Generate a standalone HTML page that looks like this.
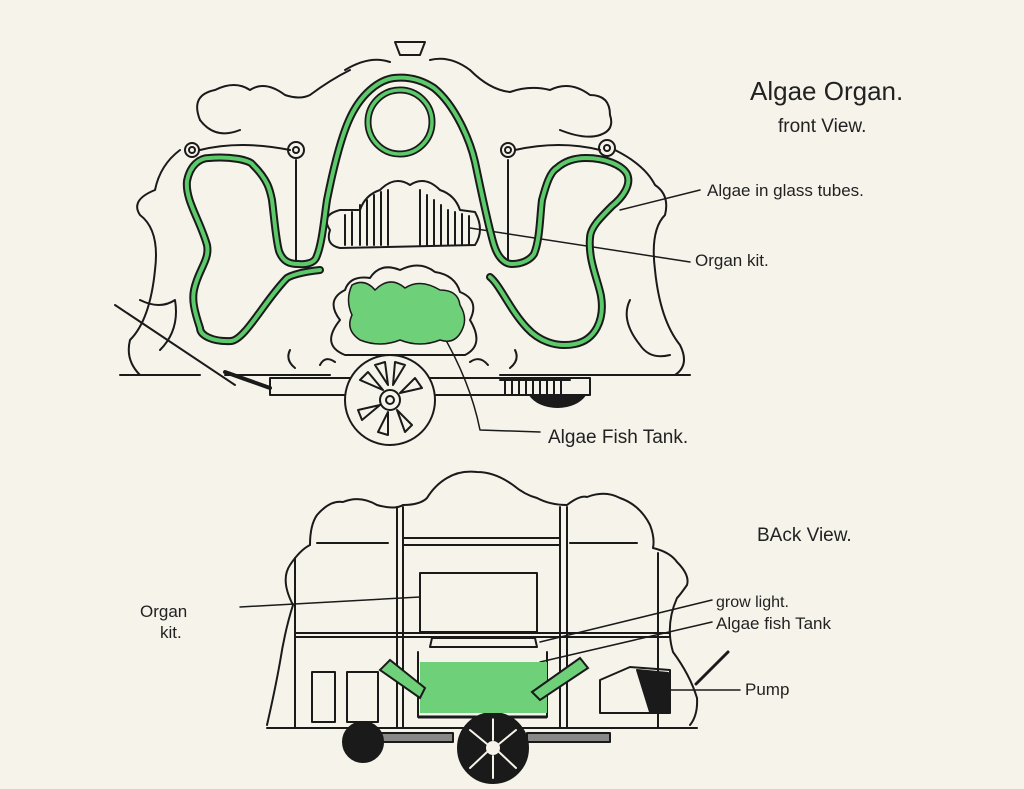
<!DOCTYPE html>
<html><head><meta charset="utf-8"><style>
html,body{margin:0;padding:0;background:#f6f3ea;}
svg{display:block}
text{font-family:"Liberation Sans",sans-serif;fill:#222;}
</style></head><body>
<svg width="1024" height="789" viewBox="0 0 1024 789" xmlns="http://www.w3.org/2000/svg">
<defs>
<path id="tube" d="M320,270 C300,272 290,276 287,278 C265,300 245,340 231,341 C212,342 200,335 200,328 C194,310 192,300 194,290 C198,270 210,260 207,245 C200,220 185,200 187,181 C190,165 200,158 209,158 C230,156 250,160 253,165 C268,180 270,190 272,200 C275,225 276,240 279,251 C283,262 290,264 298,264 C308,265 314,262 316,258 C322,245 324,220 327,200 C333,170 340,140 349,120 C360,95 378,80 394,78 C412,76 425,82 434,88 C455,105 470,140 475,162 C482,195 488,225 494,245 C498,258 505,264 512,264 C522,264 530,260 534,254 C540,240 540,215 542,200 C546,185 550,172 557,168 C566,160 576,158 586,158 C605,158 622,165 627,174 C632,185 622,198 612,206 C600,218 590,228 590,238 C588,260 598,280 601,296 C605,320 595,340 575,344 C555,348 538,340 527,328 C510,310 500,285 490,277"/>
</defs>
<rect width="1024" height="789" fill="#f6f3ea"/>
<g fill="none" stroke="#1a1a1a" stroke-width="2" stroke-linecap="round" stroke-linejoin="round">
<path d="M395,42 L425,42 L420,55 L400,55 Z"/>
<path d="M345,70 Q370,55 390,62 M430,60 Q450,55 470,70"/>
<path d="M200,120 Q190,95 215,90 Q235,80 250,90 Q265,80 285,95 Q300,100 310,95 Q330,80 350,70"/>
<path d="M470,70 Q490,90 510,92 Q530,85 550,90 Q570,80 590,95 Q610,95 610,115 Q615,130 600,135"/>
<path d="M200,120 Q215,140 240,130 M560,130 Q585,140 600,135"/>
<circle cx="192" cy="150" r="7"/><circle cx="192" cy="150" r="3"/>
<circle cx="296" cy="150" r="8"/><circle cx="296" cy="150" r="3"/>
<circle cx="508" cy="150" r="7"/><circle cx="508" cy="150" r="3"/>
<circle cx="607" cy="148" r="8"/><circle cx="607" cy="148" r="3"/>
<path d="M200,150 Q240,140 290,150 M515,150 Q560,140 600,150"/>
<path d="M296,160 L296,260 M508,160 L508,260"/>
<path d="M180,150 Q160,165 155,190 Q130,200 140,215 Q160,230 155,270 Q150,320 130,340 Q125,360 140,375"/>
<path d="M615,150 Q645,165 655,185 Q670,195 665,215 Q650,230 655,270 Q660,320 680,345 Q690,365 675,375"/>
<path d="M140,300 Q160,310 175,300 Q180,330 160,350 M630,300 Q620,320 640,345 Q650,360 670,355"/>
<path d="M120,375 L200,375 M225,375 L330,375 M500,375 L690,375"/>
<path d="M290,350 Q285,360 295,368 M515,350 Q520,360 510,368"/>
<path d="M330,230 Q320,215 340,210 L360,210 Q365,195 380,190 Q395,175 410,185 Q425,175 440,190 Q455,195 460,210 L475,212 Q485,230 475,245 L340,248 Q325,245 330,230 Z"/>
<path d="M345,215 L345,245 M352,212 L352,245 M360,205 L360,245 M367,200 L367,245 M374,195 L374,245 M381,192 L381,245 M388,190 L388,245 M420,190 L420,245 M427,195 L427,245 M434,200 L434,245 M441,205 L441,245 M448,210 L448,245 M455,212 L455,245 M462,214 L462,245 M469,216 L469,245"/>
<path d="M340,320 Q325,300 345,290 Q350,275 370,278 Q380,262 400,270 Q420,260 435,272 Q455,275 460,292 Q480,300 470,320 Q485,345 465,355 L345,355 Q320,345 340,320 Z"/>
<path d="M320,365 Q325,355 335,362 M470,362 Q480,355 488,365"/>
<path d="M270,378 L590,378 L590,395 L270,395 Z"/>
<path d="M225,372 L270,388" stroke-width="4"/>
<path d="M115,305 L235,385"/>
<path d="M500,380 L570,380 M505,380 L505,394 M512,380 L512,394 M519,380 L519,394 M526,380 L526,394 M533,380 L533,394 M540,380 L540,394 M547,380 L547,394 M554,380 L554,394 M561,380 L561,394"/>
<path d="M530,395 A30,20 0 0 0 585,395 Z" fill="#1a1a1a"/>
<circle cx="390" cy="400" r="45" fill="#f6f3ea"/>
<circle cx="390" cy="400" r="10"/><circle cx="390" cy="400" r="4"/>
<path d="M375,365 L385,362 L388,385 Z M395,362 L405,365 L393,385 Z M415,378 L422,388 L400,393 Z M360,380 L368,372 L383,390 Z M362,420 L358,410 L380,405 Z M378,432 L388,435 L388,412 Z M405,432 L412,425 L397,410 Z"/>
<path d="M440,330 Q470,380 480,430 L540,432" stroke-width="1.5"/>
<path d="M620,210 L700,190" stroke-width="1.5"/>
<path d="M470,228 L690,262" stroke-width="1.5"/>
</g>
<use href="#tube" fill="none" stroke="#1a1a1a" stroke-width="8" stroke-linecap="round"/>
<use href="#tube" fill="none" stroke="#5cc96a" stroke-width="4" stroke-linecap="round"/>
<circle cx="400" cy="122" r="32" fill="none" stroke="#1a1a1a" stroke-width="7"/>
<circle cx="400" cy="122" r="32" fill="none" stroke="#5cc96a" stroke-width="3.5"/>
<path d="M352,285 Q365,278 375,290 Q390,275 405,288 Q420,278 440,290 Q458,290 460,305 Q468,318 462,330 Q455,345 440,340 Q420,348 400,340 Q380,348 360,340 Q345,330 352,315 Q345,300 352,285 Z" fill="#6fd07a" stroke="#1a1a1a" stroke-width="1.5"/>

<g fill="none" stroke="#1a1a1a" stroke-width="2" stroke-linecap="round" stroke-linejoin="round">
<path d="M267,725 Q275,690 280,662 Q285,630 293,605 Q280,580 290,565 Q300,550 310,545 Q310,525 317,515 Q330,500 343,502 Q360,495 377,505 Q395,510 403,505 Q420,505 427,498 Q435,485 447,478 Q460,470 477,472 Q495,472 513,485 Q525,495 537,498 Q550,505 567,505 Q580,495 587,497 Q605,490 620,498 Q640,505 650,525 Q655,538 653,548 Q670,552 677,562 Q690,575 687,585 Q680,595 677,598 Q665,625 673,652 Q690,675 697,698 Q698,715 690,725"/>
<path d="M267,728 L697,728"/>
<path d="M397,507 L397,728 M403,507 L403,728 M560,507 L560,728 M567,507 L567,728"/>
<path d="M403,538 L560,538 M403,545 L560,545 M317,543 L388,543 M570,543 L637,543"/>
<path d="M295,633 L670,633 M295,637 L670,637"/>
<path d="M295,558 L295,727 M658,553 L658,727"/>
<rect x="420" y="573" width="117" height="59"/>
<rect x="312" y="672" width="23" height="50"/><rect x="347" y="672" width="31" height="50"/>
<path d="M430,647 L432,638 L535,638 L537,647 Z"/>
<path d="M418,652 L418,717 L547,717 L547,652"/>
<path d="M240,607 L420,597" stroke-width="1.5"/>
<path d="M540,642 L712,600 M540,662 L712,622 M665,690 L740,690" stroke-width="1.5"/>
<path d="M600,680 L630,667 L670,670 L670,713 L600,713 Z"/>
<path d="M637,670 L668,673 L668,712 L650,712 Z" fill="#1a1a1a"/>
<path d="M696,684 L728,652" stroke-width="3"/>
<path d="M378,733 L453,733 L453,742 L378,742 Z M527,733 L610,733 L610,742 L527,742 Z" fill="#888"/>
<circle cx="363" cy="742" r="20" fill="#1a1a1a"/>
<circle cx="493" cy="748" r="35" fill="#1a1a1a"/>
<circle cx="493" cy="748" r="8" fill="#f6f3ea"/>
<path d="M493,718 L493,740 M470,730 L487,744 M516,730 L499,744 M470,768 L487,752 M516,768 L499,752 M493,778 L493,756" stroke="#f6f3ea" stroke-width="2"/>
</g>
<rect x="420" y="662" width="127" height="51" fill="#6fd07a"/>
<path d="M380,670 L390,660 L425,688 L420,698 Z" fill="#6fd07a" stroke="#1a1a1a" stroke-width="2"/>
<path d="M532,692 L580,658 L588,668 L540,700 Z" fill="#6fd07a" stroke="#1a1a1a" stroke-width="2"/>
<path d="M418,717 L547,717" stroke="#1a1a1a" stroke-width="3"/>

<text x="750" y="100" font-size="26">Algae Organ.</text>
<text x="778" y="132" font-size="19">front View.</text>
<text x="707" y="196" font-size="17">Algae in glass tubes.</text>
<text x="695" y="266" font-size="17">Organ kit.</text>
<text x="548" y="443" font-size="19">Algae Fish Tank.</text>
<text x="757" y="541" font-size="19">BAck View.</text>
<text x="140" y="617" font-size="17">Organ</text>
<text x="160" y="638" font-size="17">kit.</text>
<text x="716" y="607" font-size="16">grow light.</text>
<text x="716" y="629" font-size="17">Algae fish Tank</text>
<text x="745" y="695" font-size="17">Pump</text>
</svg>
</body></html>
